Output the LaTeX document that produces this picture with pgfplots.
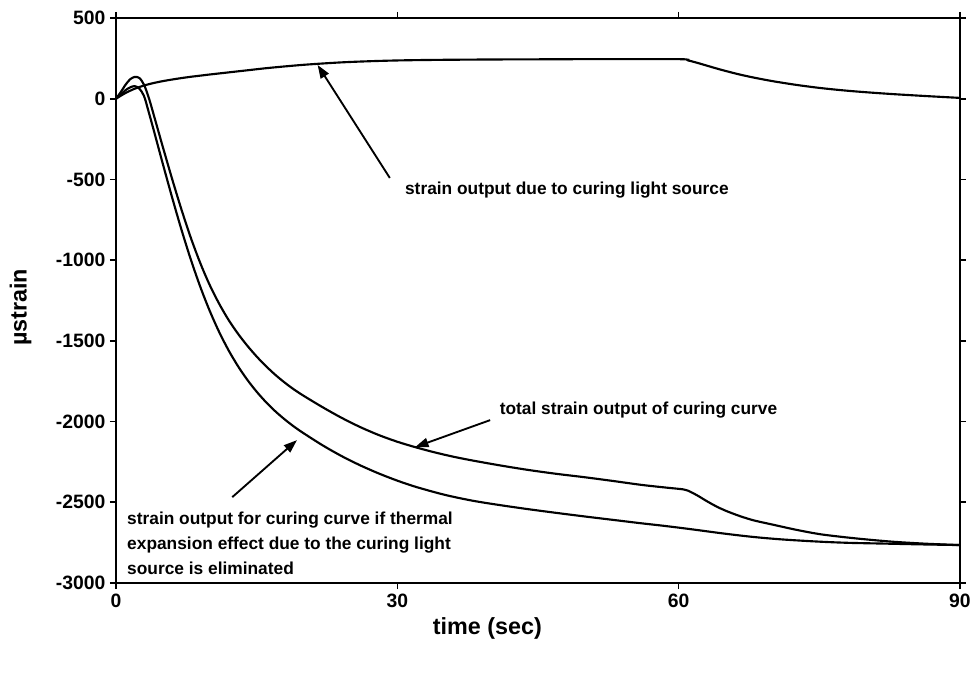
\documentclass[border=0pt]{standalone}
\usepackage{fontspec}
\setmainfont{Liberation Sans}
\usepackage{pgfplots}
\pgfplotsset{compat=1.18}
\usetikzlibrary{arrows.meta}

\pgfplotstableread{
x y
0 0
1 35
2 62
3 82
4 97
5 109
6 119
7 128
8 136
9 143
10 150
12 163
14 176
16 189
18 200
20 210
22 218
24 225
26 230
28 234
30 237
32 239
35 241
40 243
45 244
50 245
60 245
61 237
62 222
63 205
64 188
65 172
66.5 150
68 131
70 109
72.5 86
75 67
77.5 52
80 40
83 28
86.5 16
90 5
}\light

\pgfplotstableread{
x y
0 0
0.5 40
1 85
1.5 120
2 135
2.5 128
3 85
3.5 5
4 -95
5 -300
6 -500
7 -690
8 -865
9 -1020
10 -1155
11 -1270
12 -1370
13 -1455
14 -1530
15 -1597
16 -1657
17 -1711
18 -1759
19 -1802
20 -1840
22 -1910
24 -1975
26 -2033
28 -2083
30 -2125
32 -2160
34 -2191
36 -2218
38 -2241
41 -2272
44 -2300
47 -2324
50 -2345
53 -2368
56 -2392
58.5 -2408
60.5 -2420
61 -2428
62 -2458
63 -2493
64 -2525
65 -2552
66.5 -2585
68 -2612
70 -2638
72.5 -2670
75 -2697
77.5 -2715
80 -2730
83 -2745
86.5 -2757
90 -2765
}\total

\pgfplotstableread{
x y
0 0
0.5 25
1 52
1.5 70
2 78
2.5 62
3 15
3.5 -85
4 -190
5 -405
6 -615
7 -815
8 -1000
9 -1167
10 -1315
11 -1445
12 -1558
13 -1656
14 -1741
15 -1815
16 -1880
17 -1937
18 -1987
19 -2032
20 -2072
22 -2146
24 -2212
26 -2270
28 -2321
30 -2366
32 -2405
35 -2453
38 -2490
41 -2518
44 -2543
47 -2566
50 -2588
53 -2609
56 -2630
58 -2643
60 -2657
62 -2672
65 -2695
68 -2715
71 -2730
74.7 -2743
78 -2751
82 -2756
86 -2761
90 -2765
}\elim

\begin{document}
\begin{tikzpicture}
\useasboundingbox (-87pt,-68.25pt) rectangle (646.5pt,437.25pt);
\begin{axis}[
  scale only axis, width=633pt, height=423.75pt,
  xmin=0, xmax=90, ymin=-3000, ymax=500,
  xtick={0,30,60,90}, ytick={-3000,-2500,...,500},
  tick align=outside, major tick length=4.5pt,
  axis line style={line width=1.5pt},
  every tick/.style={black, line width=1.2pt},
  tick label style={font=\fontsize{14.5}{17}\selectfont\bfseries},
  /pgf/number format/assume math mode=true,
  /pgf/number format/1000 sep={},
  xlabel={time (sec)}, ylabel={µstrain},
  label style={font=\fontsize{17.5}{20}\selectfont\bfseries},
  xlabel style={at={(axis description cs:0.44,-0.0796)}, anchor=center},
  ylabel style={at={(axis description cs:-0.113,0.488)}, anchor=center},
  clip=false,
]
\addplot[black, line width=1.6pt, smooth, tension=0.5] table[x=x,y=y]{\light};
\addplot[black, line width=1.6pt, smooth, tension=0.5] table[x=x,y=y]{\total};
\addplot[black, line width=1.6pt, smooth, tension=0.5] table[x=x,y=y]{\elim};

\node[anchor=west, inner sep=0pt, font=\fontsize{13}{15}\selectfont\bfseries] at (axis cs:30.8,-566) {strain output due to curing light source};
\draw[line width=1.4pt, -{Triangle[length=10pt,width=7pt]}] (axis cs:29.2,-491) -- (axis cs:21.5,209);

\node[anchor=west, inner sep=0pt, font=\fontsize{13}{15}\selectfont\bfseries] at (axis cs:40.9,-1929) {total strain output of curing curve};
\draw[line width=1.4pt, -{Triangle[length=10pt,width=7pt]}] (axis cs:39.9,-1991) -- (axis cs:31.9,-2158);

\node[anchor=north west, inner sep=0pt, align=left, font=\fontsize{13}{18.75}\selectfont\bfseries] at (axis cs:1.17,-2561) {strain output for curing curve if thermal\\expansion effect due to the curing light\\source is eliminated};
\draw[line width=1.4pt, -{Triangle[length=10pt,width=7pt]}] (axis cs:12.4,-2468) -- (axis cs:19.3,-2115);
\end{axis}
\end{tikzpicture}
\end{document}
